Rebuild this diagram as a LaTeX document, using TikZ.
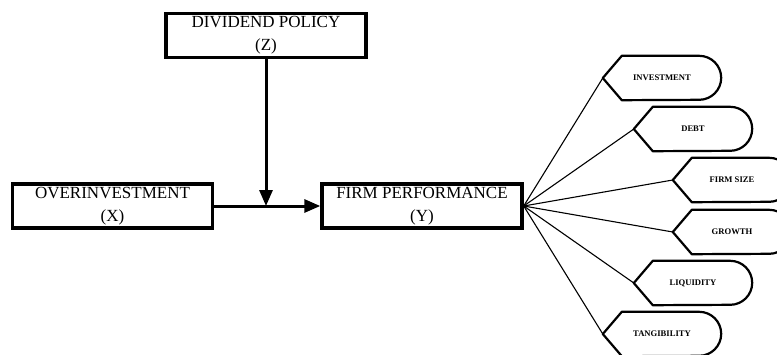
\documentclass[tikz,border=0pt]{standalone}
\usepackage{fontspec}
\setmainfont{Liberation Serif}
\usetikzlibrary{arrows.meta}

\tikzset{
  mainbox/.style={draw, line width=3.4pt, minimum width=200pt, minimum height=44pt, inner sep=0pt, align=center, font=\fontsize{17}{23}\selectfont},
  dispbox/.style={minimum width=118pt, minimum height=44pt, inner sep=0pt, font=\fontsize{8.6}{10}\selectfont\bfseries},
  bigarrow/.style={line width=3pt, -{Triangle[length=16pt,width=13pt]}}
}

\begin{document}
\begin{tikzpicture}[x=1pt,y=1pt]
\useasboundingbox (0,0) rectangle (777,-354);
\clip (0,0) rectangle (777,-354);

\node[mainbox] (div) at (266,-35.5) {DIVIDEND POLICY\\(Z)};
\node[mainbox] (over) at (112.5,-206) {OVERINVESTMENT\\(X)};
\node[mainbox] (perf) at (422,-206) {FIRM PERFORMANCE\\(Y)};

\draw[bigarrow] (over.east) -- (perf.west);
\draw[bigarrow] (div.south) -- (div.south |- over.east);

\node[dispbox] (inv) at (662,-78) {INVESTMENT};
\node[dispbox] (debt) at (693,-129) {DEBT};
\node[dispbox] (size) at (732,-180) {FIRM SIZE};
\node[dispbox] (growth) at (732,-232) {GROWTH};
\node[dispbox] (liq) at (693,-283) {LIQUIDITY};
\node[dispbox] (tang) at (662,-334) {TANGIBILITY};

\foreach \n in {inv,debt,size,growth,liq,tang} {
  \draw[line width=2.2pt, line join=round] (\n.west) -- ([xshift=19pt]\n.north west) -- ([xshift=-22pt]\n.north east)
    arc[start angle=90, end angle=-90, radius=22pt] -- ([xshift=19pt]\n.south west) -- cycle;
  \draw[line width=1.1pt] (perf.east) -- (\n.west);
}

\end{tikzpicture}
\end{document}
